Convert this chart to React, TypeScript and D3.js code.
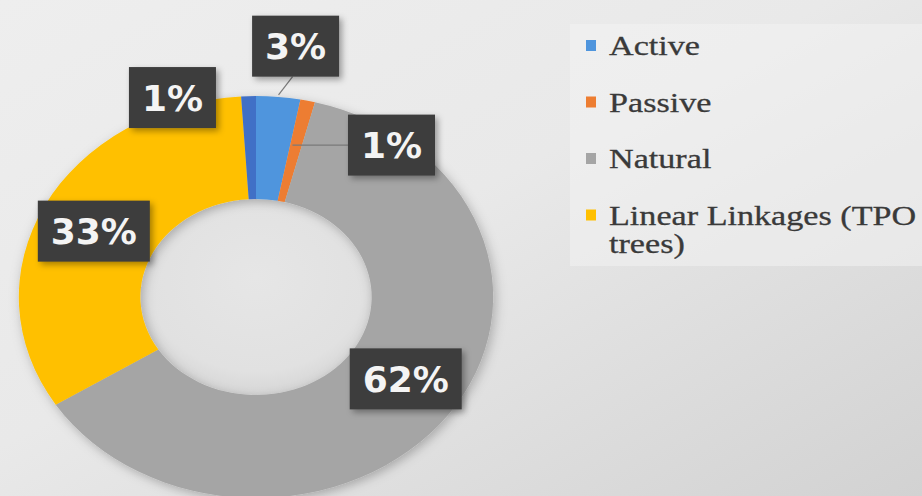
import * as d3 from 'd3';

// slice data, clockwise from 12 o'clock
const categories = ['Active', 'Passive', 'Natural', 'Linear Linkages (TPO trees)', 'Other'];
const values = [3, 1, 62, 33, 1];
const colors = ['#4f95dd', '#ed7d31', '#a5a5a5', '#ffc000', '#3f6fc6'];
// legend shows only the first four series, last one wraps
const legendLines = [['Active'], ['Passive'], ['Natural'], ['Linear Linkages (TPO', 'trees)']];

// label box offset from the slice centroid, and which leader to draw
const labelOffsets: [number, number][] = [[23, -102], [97, -6], [7, -6], [-5, 2], [-78, -50]];
const leaders = ['outer', 'centroid', 'none', 'none', 'none'];

export default function App() {
  const width = 922;
  const height = 496;
  const cx = 256;
  const cy = 297;
  const sx = 1.18; // the picture is stretched sideways
  const outerR = 201;
  const innerR = 98;

  const pie = d3.pie<number>().sort(null).value(d => d);
  const arcs = pie(values);
  const arc = d3.arc<d3.PieArcDatum<number>>().innerRadius(innerR).outerRadius(outerR);
  const total = d3.sum(values);
  const fmt = d3.format('.0%');

  const toPx = (p: [number, number]): [number, number] => [cx + p[0] * sx, cy + p[1]];

  const boxH = 61;
  const boxW = (s: string) => 37 + 25 * s.length;

  return (
    <svg width={width} height={height} style={{ position: 'absolute', left: 0, top: 0, display: 'block' }}>
      <defs>
        <linearGradient id="bg" x1="0" y1="0" x2="1" y2="1">
          <stop offset="0%" stopColor="#eeeeee" />
          <stop offset="45%" stopColor="#e9e9e9" />
          <stop offset="100%" stopColor="#d2d2d2" />
        </linearGradient>
        <radialGradient id="hole" cx="0.5" cy="0.4" r="0.6">
          <stop offset="0%" stopColor="#e6e6e6" />
          <stop offset="80%" stopColor="#e1e1e1" />
          <stop offset="100%" stopColor="#d6d6d6" />
        </radialGradient>
        <filter id="ringShadow" x="-20%" y="-20%" width="140%" height="140%">
          <feDropShadow dx="2" dy="3" stdDeviation="5" floodColor="#000" floodOpacity="0.25" />
        </filter>
        <filter id="boxShadow" x="-20%" y="-20%" width="150%" height="150%">
          <feDropShadow dx="3" dy="3" stdDeviation="3" floodColor="#000" floodOpacity="0.35" />
        </filter>
      </defs>

      <rect x={0} y={0} width={width} height={height} fill="url(#bg)" />
      <rect x={570} y={24} width={352} height={242} fill="#f3f3f3" opacity={0.55} />

      <g transform={`translate(${cx},${cy}) scale(${sx},1)`}>
        <circle r={innerR} fill="url(#hole)" />
        <g filter="url(#ringShadow)">
          {arcs.map((a, i) => (
            <path key={i} d={arc(a) ?? ''} fill={colors[i]} />
          ))}
        </g>
      </g>

      {arcs.map((a, i) => {
        const c = toPx(arc.centroid(a) as [number, number]);
        const bx = c[0] + labelOffsets[i][0];
        const by = c[1] + labelOffsets[i][1];
        const txt = fmt(values[i] / total);
        const w = boxW(txt);
        let leader = null;
        if (leaders[i] === 'outer') {
          const mid = (a.startAngle + a.endAngle) / 2;
          const p = toPx([Math.sin(mid) * (outerR + 2), -Math.cos(mid) * (outerR + 2)]);
          leader = <line x1={bx - 3} y1={by + boxH / 2} x2={p[0]} y2={p[1]} stroke="#7a7a7a" strokeWidth={1.2} />;
        } else if (leaders[i] === 'centroid') {
          leader = <line x1={bx - w / 2} y1={by} x2={c[0] - 2} y2={by} stroke="#7a7a7a" strokeWidth={1.2} />;
        }
        return (
          <g key={i}>
            {leader}
            <rect x={bx - w / 2} y={by - boxH / 2} width={w} height={boxH} fill="#3c3c3c" filter="url(#boxShadow)" />
            <text x={bx} y={by + 13} textAnchor="middle" fill="#f4f4f4"
              style={{ fontFamily: '"DejaVu Sans", Verdana, sans-serif', fontWeight: 'bold', fontSize: 36 }}>
              {txt}
            </text>
          </g>
        );
      })}

      <g>
        {legendLines.map((lines, i) => {
          const y0 = 55 + i * 56.5;
          return (
            <g key={i}>
              <rect x={586} y={y0 - 15} width={10} height={11} fill={colors[i]} />
              <text transform={`translate(609,${y0}) scale(1.22,1)`} fill="#3a3a3a" stroke="#3a3a3a" strokeWidth={0.3}
                style={{ fontFamily: '"Liberation Serif", "Times New Roman", serif', fontSize: 28 }}>
                {lines.map((l, j) => (
                  <tspan key={j} x={0} y={j * 29}>{l}</tspan>
                ))}
              </text>
            </g>
          );
        })}
      </g>
    </svg>
  );
}
